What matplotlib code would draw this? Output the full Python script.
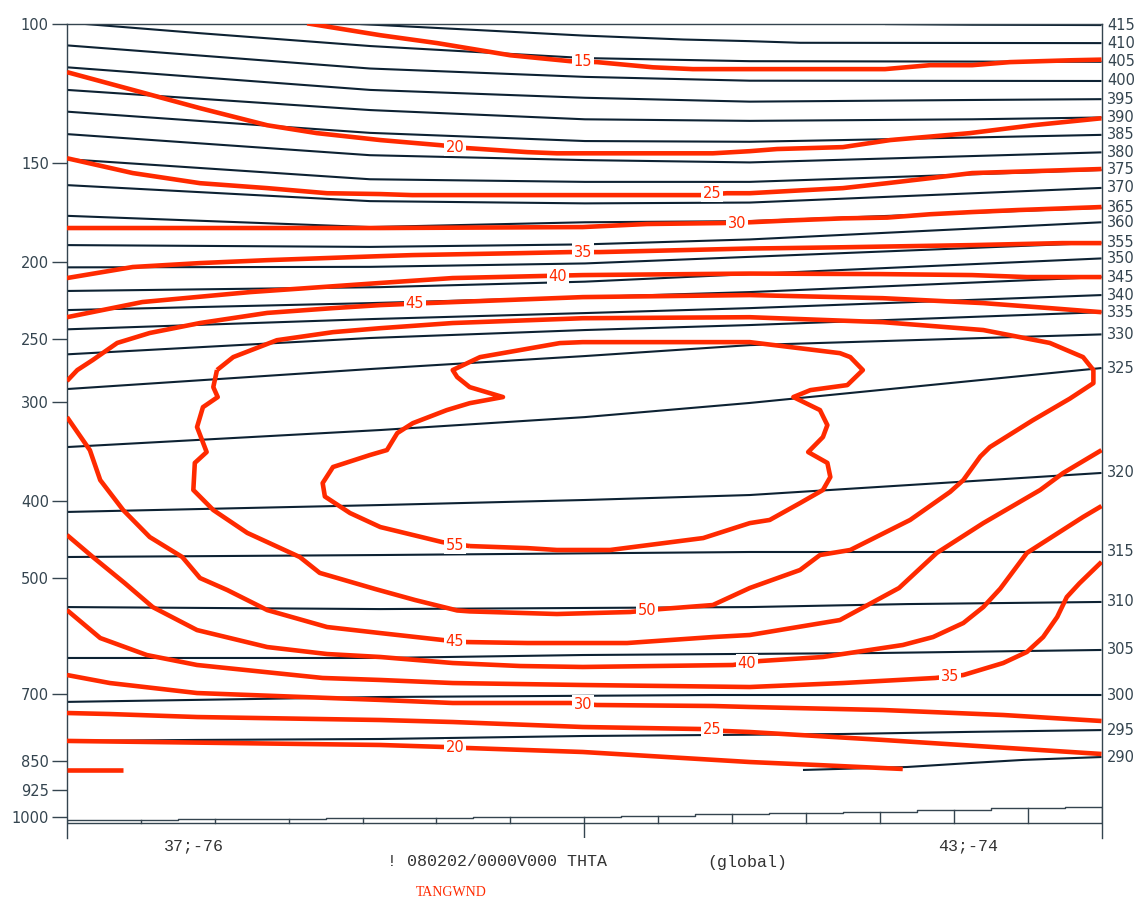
import matplotlib
matplotlib.use('Agg')
import matplotlib.pyplot as plt
from matplotlib.ticker import NullLocator

# section position in grid points (0..14) and pressure in hPa

# potential temperature lines (THTA)
thta_415 = [(11.07, 100.1), (12.25, 100.3), (14.0, 100.4)]
thta_410 = [(3.97, 100.1), (5.59, 101.9), (6.98, 103.5), (8.34, 104.7), (9.24, 105.2), (9.92, 105.7), (14.0, 105.8)]
thta_405 = [(0.2, 100.0), (1.8, 102.8), (4.1, 106.7), (7.01, 110.5), (9.24, 111.5), (14.0, 111.7)]
thta_400 = [(0.0, 106.5), (4.1, 113.9), (7.01, 116.7), (9.24, 118.0), (14.0, 118.1)]
thta_395 = [(0.0, 113.5), (4.1, 121.2), (7.01, 124.0), (9.24, 125.4), (12.22, 124.8), (14.0, 124.5)]
thta_390 = [(0.0, 121.2), (4.1, 128.5), (7.01, 132.0), (9.24, 132.6), (12.25, 132.0), (14.0, 131.3)]
thta_385 = [(0.0, 129.1), (4.1, 137.3), (7.01, 140.6), (9.24, 140.9), (10.5, 140.2), (14.0, 138.1)]
thta_380 = [(0.0, 137.8), (4.1, 146.5), (7.01, 148.6), (9.24, 149.6), (14.0, 145.3)]
thta_375 = [(0.0, 148.2), (4.1, 157.1), (7.01, 158.3), (9.24, 158.3), (14.0, 152.9)]
thta_370 = [(0.0, 159.8), (4.1, 167.4), (7.01, 168.5), (9.24, 168.1), (14.0, 161.1)]
thta_365 = [(0.0, 174.7), (4.1, 180.5), (7.01, 178.0), (9.24, 177.4), (14.0, 170.7)]
thta_360 = [(0.0, 190.2), (4.1, 191.2), (7.01, 189.8), (9.24, 187.1), (14.0, 178.0)]
thta_355 = [(0.0, 202.9), (4.1, 202.6), (7.01, 200.6), (9.24, 196.8), (14.0, 188.9)]
thta_350 = [(0.0, 217.3), (4.24, 214.9), (7.01, 211.5), (9.24, 206.9), (14.0, 197.7)]
thta_345 = [(0.0, 229.7), (4.1, 225.1), (7.01, 221.2), (9.24, 218.0), (14.0, 208.7)]
thta_340 = [(0.0, 242.9), (4.1, 235.8), (7.01, 231.7), (9.24, 228.4), (14.0, 219.9)]
thta_335 = [(0.0, 261.2), (4.1, 249.1), (7.01, 243.4), (9.24, 239.9), (14.0, 231.1)]
thta_330 = [(0.0, 288.9), (4.1, 272.6), (7.01, 262.5), (9.24, 254.3), (14.0, 246.5)]
thta_325 = [(0.0, 341.9), (4.24, 325.4), (7.01, 313.4), (9.24, 300.8), (14.0, 271.8)]
thta_320 = [(0.0, 412.8), (4.24, 404.6), (7.01, 398.7), (9.24, 393.0), (14.0, 368.6)]
thta_315 = [(0.0, 470.5), (4.24, 467.8), (9.24, 463.7), (14.0, 463.7)]
thta_310 = [(0.0, 544.1), (4.24, 547.3), (9.24, 544.1), (11.37, 539.4), (14.0, 536.1)]
thta_305 = [(0.0, 630.8), (4.24, 630.8), (6.98, 625.4), (10.96, 621.8), (14.0, 616.3)]
thta_300 = [(0.0, 716.6), (1.76, 712.4), (4.24, 706.5), (8.74, 702.4), (14.0, 702.4)]
thta_295 = [(0.0, 802.6), (1.76, 800.3), (4.24, 798.1), (6.98, 791.2), (10.5, 786.6), (12.22, 781.8), (14.0, 777.7)]
thta_290 = [(9.96, 873.2), (11.37, 865.7), (12.22, 855.8), (12.94, 848.1), (14.0, 841.0)]

# tangential wind isotachs (TANGWND)
wind15_top = [(3.25, 99.9), (4.24, 103.4), (5.01, 105.8), (6.0, 109.6), (6.81, 111.5), (7.17, 111.8), (7.93, 113.5),
              (8.47, 114.1), (11.07, 114.1), (11.68, 112.8), (12.25, 112.8), (12.76, 111.8), (13.6, 111.2), (14.0, 111.0)]
wind20_top = [(0.0, 115.1), (0.89, 121.2), (1.8, 127.8), (2.71, 134.3), (3.38, 137.4), (4.24, 140.2), (5.05, 142.3),
              (5.41, 143.5), (6.23, 145.2), (6.63, 145.7), (8.74, 145.7), (9.24, 144.8), (9.61, 143.9), (10.5, 143.1),
              (11.14, 140.2), (12.22, 137.4), (13.07, 134.3), (14.0, 131.6)]
wind25 = [(0.0, 147.8), (0.89, 154.3), (1.8, 158.9), (2.71, 161.2), (3.52, 163.6), (4.24, 164.0), (4.67, 164.5),
          (8.57, 164.5), (8.93, 163.6), (9.24, 163.6), (9.96, 162.2), (10.5, 161.2), (11.1, 158.9), (11.68, 156.6),
          (12.25, 154.3), (14.0, 152.5)]
wind30 = [(0.0, 181.0), (4.24, 181.0), (6.98, 180.5), (7.85, 178.9), (8.88, 178.4), (9.24, 178.0), (9.88, 176.9),
          (10.5, 176.0), (11.1, 175.6), (11.68, 173.9), (12.25, 172.8), (12.86, 171.8), (14.0, 170.3)]
wind35 = [(0.0, 209.3), (0.89, 202.7), (1.8, 200.4), (2.71, 198.7), (4.24, 196.4), (4.68, 195.8), (6.13, 194.7),
          (6.81, 194.1), (7.21, 194.1), (9.24, 192.1), (9.65, 191.9), (10.5, 191.4), (12.25, 190.2), (13.47, 189.1),
          (14.0, 189.1)]
wind40_top = [(0.0, 234.5), (1.02, 224.4), (2.48, 218.0), (4.24, 212.3), (5.22, 209.3), (6.98, 207.5), (9.24, 206.6),
              (11.0, 206.9), (12.25, 207.5), (12.99, 208.7), (14.0, 208.7)]
wind45_top = [(0.0, 282.2), (0.14, 273.4), (0.35, 265.5), (0.68, 252.7), (1.12, 245.5), (1.8, 238.5), (2.71, 231.6),
              (3.6, 228.4), (4.24, 226.4), (4.87, 225.1), (6.98, 221.2), (9.24, 219.9), (11.04, 221.9), (12.4, 225.1),
              (13.3, 228.4), (14.0, 231.1)]
wind50 = [(2.03, 273.4), (2.25, 263.3), (2.84, 250.7), (3.6, 244.9), (4.24, 242.1), (5.22, 238.5), (6.98, 235.2),
          (9.24, 234.5), (11.04, 237.9), (12.4, 243.4), (13.3, 252.7), (13.75, 263.3), (13.89, 273.4), (13.89, 284.0),
          (13.57, 297.1), (13.07, 316.3), (12.49, 341.9), (12.36, 351.4), (12.13, 376.3), (11.95, 389.5), (11.41, 422.5),
          (10.6, 461.0), (10.19, 467.8), (9.92, 488.6), (9.24, 514.8), (8.74, 540.9), (8.03, 547.3), (7.62, 552.0),
          (6.63, 555.2), (5.45, 551.0), (5.28, 549.5), (4.71, 533.1), (4.17, 516.3), (3.42, 492.7), (3.15, 470.5),
          (2.44, 438.7), (1.98, 410.5), (1.71, 387.3), (1.73, 358.0), (1.89, 346.9), (1.76, 322.6), (1.84, 304.5),
          (2.04, 295.7), (1.98, 287.3), (2.03, 273.4)]
wind55 = [(5.45, 455.8), (6.23, 458.5), (6.63, 461.0), (7.35, 461.0), (8.61, 445.3), (9.24, 426.4), (9.51, 422.5),
          (9.92, 402.3), (10.23, 387.3), (10.33, 373.0), (10.29, 358.0), (10.03, 346.9), (10.23, 332.1), (10.29, 320.8),
          (10.19, 307.1), (9.83, 295.7), (10.06, 289.8), (10.56, 285.6), (10.77, 273.4), (10.6, 263.3), (10.46, 260.3),
          (9.24, 252.1), (6.98, 252.1), (6.67, 252.8), (6.13, 258.0), (5.59, 263.3), (5.22, 273.4), (5.28, 279.0),
          (5.45, 287.3), (5.9, 295.7), (5.45, 301.0), (5.14, 307.1), (4.68, 319.0), (4.47, 328.3), (4.33, 344.9),
          (4.1, 349.9), (3.6, 362.3), (3.46, 379.6), (3.49, 394.7), (3.83, 414.1), (4.24, 431.3), (5.08, 450.6),
          (5.45, 455.8)]
wind45_low = [(0.0, 313.4), (0.31, 345.0), (0.45, 376.3), (0.76, 410.5), (1.12, 444.0), (1.56, 470.5), (1.8, 500.1),
              (2.17, 517.9), (2.71, 548.9), (3.52, 576.6), (4.24, 586.8), (5.09, 598.8), (5.41, 602.3), (6.23, 604.0),
              (7.58, 604.0), (8.74, 593.6), (9.24, 590.1), (10.46, 565.0), (10.96, 533.1), (11.26, 514.8),
              (11.77, 465.0), (12.4, 426.4), (13.17, 387.3), (13.48, 368.7), (14.0, 345.0)]
wind40_low = [(0.0, 441.4), (0.35, 470.5), (0.78, 507.4), (1.16, 544.1), (1.76, 581.7), (2.71, 611.1), (3.52, 623.6),
              (4.24, 629.0), (5.22, 640.1), (6.13, 645.7), (6.98, 647.5), (9.01, 643.8), (9.38, 636.4), (10.23, 629.0),
              (11.31, 607.5), (11.72, 593.6), (12.13, 569.9), (12.4, 544.1), (12.63, 515.8), (12.99, 465.0),
              (13.75, 418.9), (14.0, 405.8)]
wind35_low = [(0.0, 548.9), (0.45, 595.3), (1.08, 625.4), (1.76, 643.8), (3.46, 668.5), (4.24, 672.4), (5.22, 678.4),
              (6.98, 682.3), (9.24, 686.3), (10.5, 678.4), (11.75, 668.5), (12.13, 662.8), (12.67, 640.1),
              (12.99, 619.9), (13.21, 593.6), (13.4, 560.0), (13.53, 528.5), (13.7, 508.0), (14.0, 477.3)]
wind30_low = [(0.0, 662.8), (0.58, 678.4), (1.76, 698.4), (4.24, 712.5), (5.22, 718.9), (6.81, 718.9), (7.17, 723.1),
              (8.74, 725.2), (9.24, 727.3), (11.04, 733.7), (12.67, 744.4), (14.0, 757.5)]
wind25_low = [(0.0, 740.1), (0.58, 742.3), (1.76, 748.8), (4.24, 755.3), (5.22, 759.7), (6.98, 770.8), (8.57, 775.3),
              (8.91, 779.8), (9.24, 782.1), (11.04, 800.3), (14.0, 833.6)]
wind20_low = [(0.0, 802.6), (4.24, 812.1), (5.09, 816.8), (5.41, 819.2), (6.98, 828.8), (9.24, 853.3), (10.15, 860.7),
              (11.31, 870.7)]
wind15_low = [(0.0, 873.2), (0.76, 873.2)]

# isotach labels: value, x, p
wind_labels = [(15, 6.98, 111.5), (20, 5.25, 143.1), (25, 8.73, 163.6), (30, 9.07, 178.4), (35, 6.98, 194.1),
               (40, 6.64, 208.1), (45, 4.71, 225.1), (55, 5.25, 454.5), (50, 7.85, 549.5), (45, 5.25, 600.5),
               (40, 9.2, 640.1), (35, 11.95, 666.6), (30, 6.98, 721.0), (25, 8.73, 777.5), (20, 5.25, 819.0)]

# surface pressure at grid points
grid_x = list(range(15))
sfc_p = [1011, 1009.6, 1007.6, 1007.6, 1004.7, 1004.7, 1000, 1000, 997.1, 993.1, 990.2, 985.6, 980.8, 976.0, 971.5]
base_p = 1019

p_ticks = [100, 150, 200, 250, 300, 400, 500, 700, 850, 925, 1000]
x_labels = [(1.72, '37;-76'), (12.19, '43;-74')]

theta_lines = [(415, thta_415), (410, thta_410), (405, thta_405), (400, thta_400), (395, thta_395),
               (390, thta_390), (385, thta_385), (380, thta_380), (375, thta_375), (370, thta_370),
               (365, thta_365), (360, thta_360), (355, thta_355), (350, thta_350), (345, thta_345),
               (340, thta_340), (335, thta_335), (330, thta_330), (325, thta_325), (320, thta_320),
               (315, thta_315), (310, thta_310), (305, thta_305), (300, thta_300), (295, thta_295),
               (290, thta_290)]
wind_lines = [wind15_top, wind20_top, wind25, wind30, wind35, wind40_top, wind45_top, wind50, wind55,
              wind45_low, wind40_low, wind35_low, wind30_low, wind25_low, wind20_low, wind15_low]

RED = '#ff2a00'
DARK = '#0d2233'
AXIS = '#34444f'

fig = plt.figure(figsize=(11.41, 9.01), dpi=100)
ax = fig.add_axes([0.0587, 0.0699, 0.9067, 0.9038])
ax.set_yscale('log')
ax.set_xlim(0, 14)
ax.set_ylim(1064, 100)

for theta, pts in theta_lines:
    xs = [a for a, b in pts]
    ps = [b for a, b in pts]
    ax.plot(xs, ps, color=DARK, lw=1.5, zorder=2, solid_capstyle='butt')
    ax.annotate(str(theta), xy=(1.0, ps[-1]), xycoords=('axes fraction', 'data'),
                xytext=(4, 0), textcoords='offset points', ha='left', va='center',
                fontsize=10.5, color=AXIS)

for pts in wind_lines:
    xs = [a for a, b in pts]
    ps = [b for a, b in pts]
    ax.plot(xs, ps, color=RED, lw=3.3, zorder=3, solid_capstyle='butt', solid_joinstyle='round')

for val, x, p in wind_labels:
    ax.text(x, p, str(val), color=RED, fontsize=10.5, ha='center', va='center', zorder=4,
            bbox=dict(boxstyle='square,pad=0.12', fc='white', ec='none'))

# ground: surface line, base line and grid ticks
ax.step(grid_x, sfc_p, where='mid', color=AXIS, lw=1.0, zorder=2)
ax.plot([0, 14], [base_p, base_p], color=AXIS, lw=1.0, zorder=2)
for gx, gp in zip(grid_x, sfc_p):
    bottom = 1064 if gx == 7 else base_p
    ax.plot([gx, gx], [gp, bottom], color=AXIS, lw=1.0, zorder=2)

ax.yaxis.set_major_locator(plt.FixedLocator(p_ticks))
ax.yaxis.set_minor_locator(NullLocator())
ax.set_yticklabels([str(p) for p in p_ticks])
ax.tick_params(axis='y', length=11, width=1.0, color=AXIS, labelsize=10.5, labelcolor=AXIS, pad=2)
ax.set_xticks([])

for side in ['left', 'right', 'top']:
    ax.spines[side].set_color(AXIS)
    ax.spines[side].set_linewidth(1.0)
ax.spines['bottom'].set_visible(False)

for x, lab in x_labels:
    ax.text(x, -0.009, lab, transform=ax.get_xaxis_transform(), ha='center', va='center',
            fontsize=12, family='Liberation Mono', color='#333333')

fig.text(387 / 1141, 1 - 862 / 901, '! 080202/0000V000 THTA', ha='left', va='center',
         fontsize=12, family='Liberation Mono', color='#333333')
fig.text(707 / 1141, 1 - 862 / 901, '(global)', ha='left', va='center',
         fontsize=12, family='Liberation Mono', color='#333333')
fig.text(416 / 1141, 1 - 892 / 901, 'TANGWND', ha='left', va='center',
         fontsize=10, family='Liberation Serif', color=RED)

fig.savefig('out.png', dpi=100)
